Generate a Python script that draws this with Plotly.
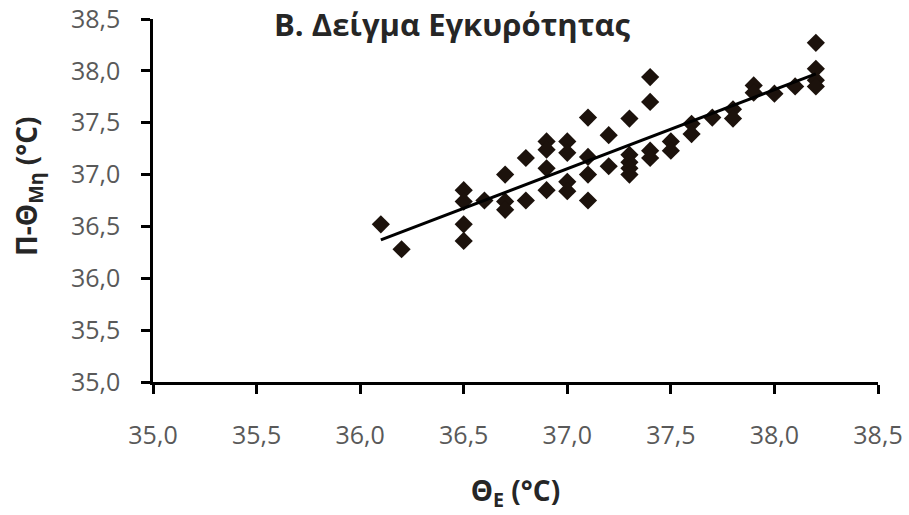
import numpy as np
import plotly.graph_objects as go

# Measured temperatures (°C)
theta_e = [36.1, 36.2,
           36.5, 36.5, 36.5, 36.5,
           36.6,
           36.7, 36.7, 36.7,
           36.8, 36.8,
           36.9, 36.9, 36.9, 36.9,
           37.0, 37.0, 37.0, 37.0,
           37.1, 37.1, 37.1, 37.1,
           37.2, 37.2,
           37.3, 37.3, 37.3, 37.3, 37.3,
           37.4, 37.4, 37.4, 37.4,
           37.5, 37.5,
           37.6, 37.6,
           37.7,
           37.8, 37.8,
           37.9, 37.9,
           38.0,
           38.1,
           38.2, 38.2, 38.2, 38.2]
pi_theta = [36.52, 36.28,
            36.85, 36.74, 36.52, 36.36,
            36.75,
            37.0, 36.74, 36.66,
            37.16, 36.75,
            37.32, 37.24, 37.06, 36.85,
            37.32, 37.21, 36.93, 36.84,
            37.55, 37.17, 37.0, 36.75,
            37.38, 37.08,
            37.54, 37.19, 37.12, 37.06, 37.0,
            37.94, 37.70, 37.23, 37.16,
            37.32, 37.23,
            37.49, 37.39,
            37.55,
            37.63, 37.54,
            37.86, 37.79,
            37.78,
            37.85,
            38.27, 38.02, 37.91, 37.85]

tick_vals = [35.0, 35.5, 36.0, 36.5, 37.0, 37.5, 38.0, 38.5]
title_text = "<b>Β. Δείγμα Εγκυρότητας</b>"
x_title = "<b>Θ<sub>Ε</sub> (°C)</b>"
y_title = "<b>Π-Θ<sub>Μη</sub> (°C)</b>"

# Linear trend line (least squares) over data range
slope, intercept = np.polyfit(theta_e, pi_theta, 1)
trend_x = [min(theta_e), max(theta_e)]
trend_y = [slope * v + intercept for v in trend_x]

font_family = "Open Sans, Noto Sans, sans-serif"

fig = go.Figure()
fig.add_trace(go.Scatter(
    x=theta_e, y=pi_theta, mode="markers",
    marker=dict(symbol="diamond", size=14, color="#1c120c"),
    showlegend=False,
))
fig.add_trace(go.Scatter(
    x=trend_x, y=trend_y, mode="lines",
    line=dict(color="#000000", width=3),
    showlegend=False,
))

axis_common = dict(
    showgrid=False, zeroline=False, automargin=False,
    showline=True, linecolor="#000000", linewidth=2.5,
    ticks="outside", ticklen=9, tickwidth=2.5, tickcolor="#000000",
    tickvals=tick_vals, tickformat=".1f",
    tickfont=dict(family=font_family, size=25, color="#595959"),
    range=[35.0, 38.5],
)

fig.update_layout(
    width=909, height=515,
    margin=dict(l=153, r=31, t=19, b=133),
    paper_bgcolor="white", plot_bgcolor="white",
    separators=",.",
    font=dict(family=font_family),
    xaxis=dict(**axis_common, ticklabelstandoff=20,
               title=dict(text=x_title, font=dict(family=font_family, size=28, color="#262626"),
                          standoff=32)),
    yaxis=dict(**axis_common, ticklabelstandoff=16),
    annotations=[
        dict(text=title_text, xref="paper", yref="paper",
             x=(272 - 153) / 725, y=(382 - 24) / 363, xanchor="left", yanchor="middle",
             showarrow=False,
             font=dict(family=font_family, size=31, color="#262626")),
        dict(text=y_title, xref="paper", yref="paper", textangle=-90,
             x=(28 - 153) / 725, y=(382 - 186) / 363, xanchor="center", yanchor="middle",
             showarrow=False,
             font=dict(family=font_family, size=28, color="#262626")),
    ],
)

fig.write_html("out.html")
